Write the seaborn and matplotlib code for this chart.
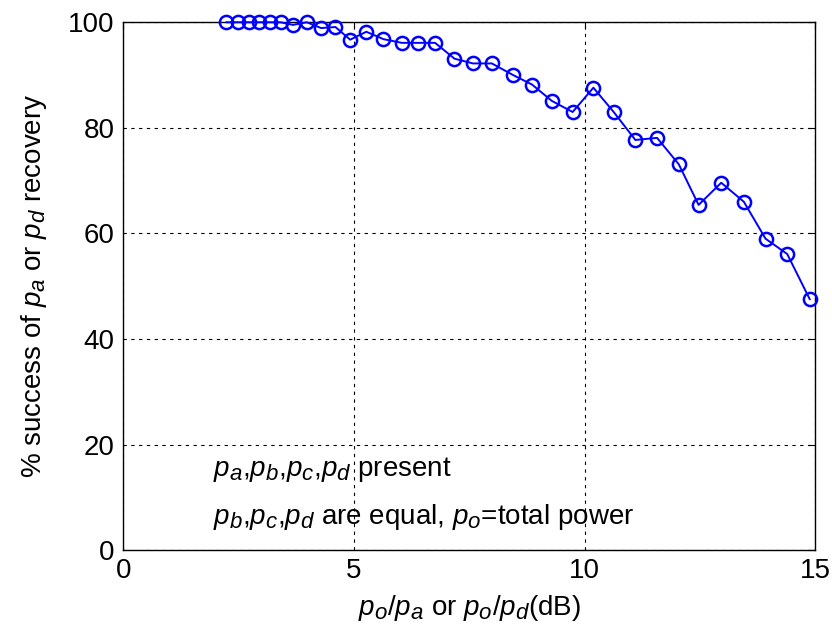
import matplotlib
matplotlib.use("Agg")
import matplotlib.pyplot as plt
import matplotlib._mathtext as mt
import seaborn as sns
import pandas as pd

x_db = [2.23, 2.48, 2.73, 2.95, 3.19, 3.41, 3.68, 3.98, 4.29, 4.60, 4.92, 5.27,
        5.64, 6.04, 6.40, 6.76, 7.18, 7.58, 7.99, 8.45, 8.86, 9.29, 9.74, 10.19,
        10.63, 11.10, 11.57, 12.04, 12.47, 12.96, 13.45, 13.92, 14.39, 14.88]
success = [100, 100, 100, 100, 100, 100, 99.5, 100, 98.9, 99.1, 96.7, 98.2,
           96.8, 96.1, 96.1, 96.1, 93.1, 92.2, 92.2, 90.0, 88.2, 85.1, 83.0, 87.6,
           83.0, 77.7, 78.1, 73.1, 65.4, 69.6, 66.0, 59.0, 56.1, 47.5]
x_ticks = [0, 5, 10, 15]
y_ticks = [0, 20, 40, 60, 80, 100]

sns.set_theme(style="white")
plt.rcParams['font.family'] = ['Liberation Sans', 'DejaVu Sans']
plt.rcParams['mathtext.fontset'] = 'custom'
plt.rcParams['mathtext.it'] = 'Liberation Sans:italic'
plt.rcParams['mathtext.rm'] = 'Liberation Sans'
plt.rcParams['mathtext.default'] = 'it'
try:
    mt.SHRINK_FACTOR = 0.8
except Exception:
    pass

FS = 20
df = pd.DataFrame({"x": x_db, "y": success})

fig = plt.figure(figsize=(8.32, 6.36), dpi=100)
ax = fig.add_axes([0.148, 0.135, 0.832, 0.830])

sns.lineplot(data=df, x="x", y="y", ax=ax, color=(0, 0, 1), linewidth=1.4,
             marker="o", markersize=9.5, markerfacecolor="none",
             markeredgecolor=(0, 0, 1), markeredgewidth=1.8, clip_on=False,
             zorder=5)

ax.set_xlim(0, 15)
ax.set_ylim(0, 100)
ax.set_xticks(x_ticks)
ax.set_yticks(y_ticks)
ax.tick_params(direction="in", length=5, width=0.8, labelsize=FS, colors="black",
               top=True, right=True, pad=6)
for s in ax.spines.values():
    s.set_color("black")
    s.set_linewidth(1.0)
    s.set_visible(True)

ax.grid(True, color="black", linestyle=(0, (3, 4)), linewidth=0.8)
ax.set_axisbelow(True)

ax.set_xlabel(r"$p_o/p_a$ or $p_o/p_d$(dB)", fontsize=FS, color="black", labelpad=6)
ax.set_ylabel(r"% success of $p_a$ or $p_d$ recovery", fontsize=FS, color="black",
              labelpad=14)

ax.text(1.95, 14.0, r"$p_a$,$p_b$,$p_c$,$p_d$ present", fontsize=FS, va="baseline",
        ha="left", color="black")
ax.text(1.95, 4.9, r"$p_b$,$p_c$,$p_d$ are equal, $p_o$=total power", fontsize=FS,
        va="baseline", ha="left", color="black")

fig.savefig("out.png", dpi=100)
